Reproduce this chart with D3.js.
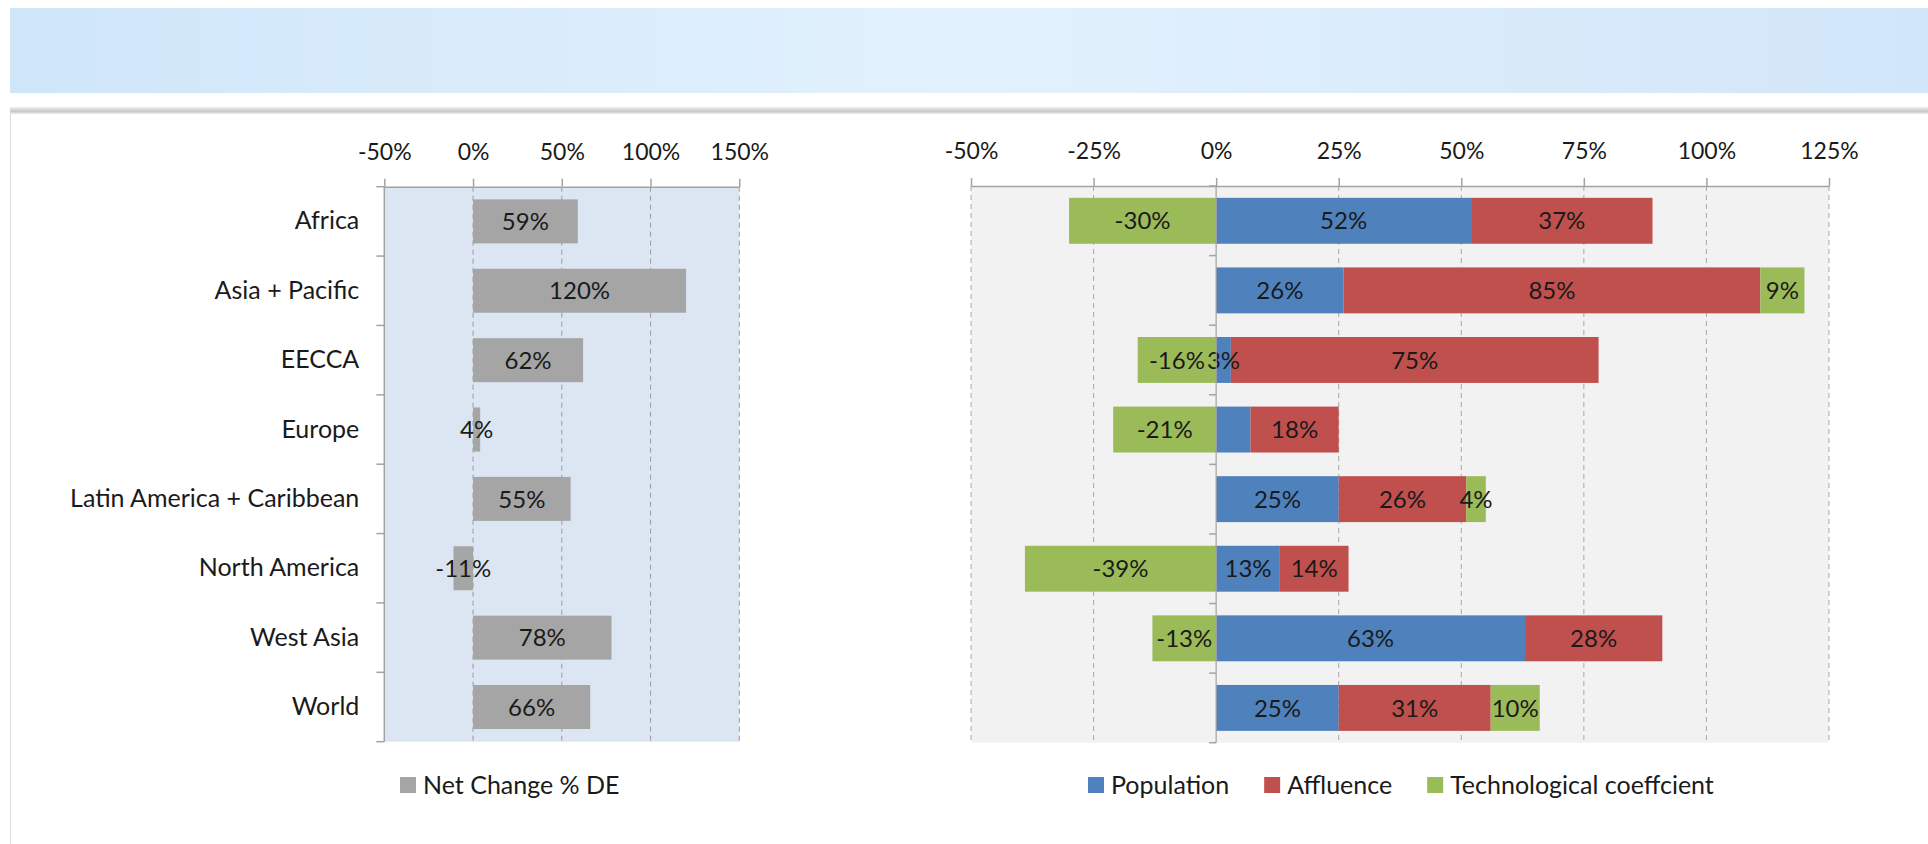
<!DOCTYPE html>
<html>
<head>
<meta charset="utf-8">
<script src="https://d3js.org/d3.v7.min.js"></script>
<style>
  body { margin: 0; background: #fff; }
  svg text { font-family: Lato, "Open Sans", sans-serif; fill: #1a1a1a; }
</style>
</head>
<body>
<div id="chart"></div>
<script>
// regions and their values (% change)
var regions = ["Africa", "Asia + Pacific", "EECCA", "Europe", "Latin America + Caribbean", "North America", "West Asia", "World"];
var netChange = [59, 120, 62, 4, 55, -11, 78, 66];
var population = [52, 26, 3, 7, 25, 13, 63, 25];
var affluence = [37, 85, 75, 18, 26, 14, 28, 31];
var techCoef = [-30, 9, -16, -21, 4, -39, -13, 10];

var netTicks = [-50, 0, 50, 100, 150];
var driverTicks = [-50, -25, 0, 25, 50, 75, 100, 125];
var driverNames = ["Population", "Affluence", "Technological coeffcient"];
var driverColors = ["#4f81bd", "#c0504d", "#9bbb59"];
var netName = "Net Change % DE";
var hiddenLabels = ["Europe|Population"];

var W = 1928, H = 844;
var tickFont = 23, valueFont = 24, labelFont = 25;
var axisColor = "#a3a3a3";

var svg = d3.select("#chart").append("svg")
  .attr("width", W)
  .attr("height", H);

var defs = svg.append("defs");

// page header band
var band = defs.append("linearGradient").attr("id", "band");
band.append("stop").attr("offset", "0%").attr("stop-color", "#cfe6f9");
band.append("stop").attr("offset", "50%").attr("stop-color", "#e2f1fd");
band.append("stop").attr("offset", "100%").attr("stop-color", "#d1e6f9");

var rule = defs.append("linearGradient").attr("id", "rule")
  .attr("x1", "0%").attr("y1", "0%").attr("x2", "0%").attr("y2", "100%");
rule.append("stop").attr("offset", "0%").attr("stop-color", "#f2f2f2");
rule.append("stop").attr("offset", "60%").attr("stop-color", "#c6c6c6");
rule.append("stop").attr("offset", "100%").attr("stop-color", "#ececec");

svg.append("rect")
  .attr("x", 10).attr("y", 8)
  .attr("width", W - 10).attr("height", 85)
  .style("fill", "url(#band)");

svg.append("rect")
  .attr("x", 10).attr("y", 107)
  .attr("width", W - 10).attr("height", 7)
  .style("fill", "url(#rule)");

svg.append("line")
  .attr("x1", 10.5).attr("x2", 10.5)
  .attr("y1", 112).attr("y2", H)
  .style("stroke", "#dcdcdc");

// ---------- left chart: net change ----------
var xNet = d3.scaleLinear().domain([-50, 150]).range([384.3, 739.3]);
var yNet = d3.scaleBand().domain(regions).range([186.7, 741.7])
  .paddingInner(0.366).paddingOuter(0.183);

var left = svg.append("g");

left.append("rect")
  .attr("x", xNet(-50)).attr("y", yNet.range()[0])
  .attr("width", xNet(150) - xNet(-50))
  .attr("height", yNet.range()[1] - yNet.range()[0])
  .style("fill", "#dce6f2");

left.selectAll(".grid")
  .data(netTicks.filter(function(d) { return d !== -50; }))
  .enter().append("line")
  .attr("class", "grid")
  .attr("x1", function(d) { return xNet(d); })
  .attr("x2", function(d) { return xNet(d); })
  .attr("y1", yNet.range()[0]).attr("y2", yNet.range()[1])
  .style("stroke", "#9a9a9a")
  .style("stroke-dasharray", "5,4");

left.selectAll(".bar")
  .data(netChange)
  .enter().append("rect")
  .attr("class", "bar")
  .attr("x", function(d) { return xNet(Math.min(0, d)); })
  .attr("y", function(d, i) { return yNet(regions[i]); })
  .attr("width", function(d) { return Math.abs(xNet(d) - xNet(0)); })
  .attr("height", yNet.bandwidth())
  .style("fill", "#a5a5a5");

left.selectAll(".val")
  .data(netChange)
  .enter().append("text")
  .attr("class", "val")
  .attr("x", function(d) { return (xNet(d) + xNet(0)) / 2; })
  .attr("y", function(d, i) { return yNet(regions[i]) + yNet.bandwidth() / 2; })
  .attr("dy", "0.36em")
  .attr("text-anchor", "middle")
  .style("font-size", valueFont + "px")
  .text(function(d) { return d + "%"; });

var netAxis = left.append("g")
  .attr("transform", "translate(0," + yNet.range()[0] + ")")
  .call(d3.axisTop(xNet).tickValues(netTicks).tickSizeInner(8).tickSizeOuter(0)
    .tickPadding(19).tickFormat(function(d) { return d + "%"; }));
netAxis.selectAll("text").style("font-size", tickFont + "px").style("font-family", null);

var catAxis = left.append("g")
  .attr("transform", "translate(" + xNet(-50) + ",0)")
  .call(d3.axisLeft(yNet).tickSize(0).tickPadding(25));
catAxis.select(".domain").remove();
catAxis.selectAll("text").style("font-size", labelFont + "px").style("font-family", null);

[netAxis, catAxis].forEach(function(a) {
  a.selectAll("line, path").style("stroke", axisColor).style("stroke-width", 1.5);
});

// category boundary ticks and vertical axis
var stepN = yNet.step();
left.selectAll(".ctick")
  .data(d3.range(regions.length + 1))
  .enter().append("line")
  .attr("class", "ctick")
  .attr("x1", xNet(-50) - 8).attr("x2", xNet(-50))
  .attr("y1", function(i) { return yNet.range()[0] + i * stepN; })
  .attr("y2", function(i) { return yNet.range()[0] + i * stepN; })
  .style("stroke", axisColor).style("stroke-width", 1.5);

left.append("line")
  .attr("x1", xNet(-50)).attr("x2", xNet(-50))
  .attr("y1", yNet.range()[0]).attr("y2", yNet.range()[1])
  .style("stroke", axisColor).style("stroke-width", 1.5);

// ---------- right chart: drivers ----------
var xDrv = d3.scaleLinear().domain([-50, 125]).range([971, 1829]);
var yDrv = d3.scaleBand().domain(regions).range([186, 742.7])
  .paddingInner(0.34).paddingOuter(0.17);

var table = regions.map(function(r, i) {
  var row = { region: r };
  row[driverNames[0]] = population[i];
  row[driverNames[1]] = affluence[i];
  row[driverNames[2]] = techCoef[i];
  return row;
});

var series = d3.stack().keys(driverNames).offset(d3.stackOffsetDiverging)(table);

var right = svg.append("g");

right.append("rect")
  .attr("x", xDrv(-50)).attr("y", yDrv.range()[0])
  .attr("width", xDrv(125) - xDrv(-50))
  .attr("height", yDrv.range()[1] - yDrv.range()[0])
  .style("fill", "#f2f2f2");

right.selectAll(".grid")
  .data(driverTicks.filter(function(d) { return d !== 0; }))
  .enter().append("line")
  .attr("class", "grid")
  .attr("x1", function(d) { return xDrv(d); })
  .attr("x2", function(d) { return xDrv(d); })
  .attr("y1", yDrv.range()[0]).attr("y2", yDrv.range()[1])
  .style("stroke", "#a8a8a8")
  .style("stroke-dasharray", "5,4");

var layers = right.selectAll(".layer")
  .data(series)
  .enter().append("g")
  .attr("class", "layer")
  .style("fill", function(d, i) { return driverColors[i]; });

layers.selectAll("rect")
  .data(function(d) { return d; })
  .enter().append("rect")
  .attr("x", function(d) { return xDrv(d[0]); })
  .attr("y", function(d) { return yDrv(d.data.region); })
  .attr("width", function(d) { return xDrv(d[1]) - xDrv(d[0]); })
  .attr("height", yDrv.bandwidth());

series.forEach(function(s) {
  right.append("g").selectAll("text")
    .data(s.filter(function(d) { return hiddenLabels.indexOf(d.data.region + "|" + s.key) < 0; }))
    .enter().append("text")
    .attr("x", function(d) { return (xDrv(d[0]) + xDrv(d[1])) / 2; })
    .attr("y", function(d) { return yDrv(d.data.region) + yDrv.bandwidth() / 2; })
    .attr("dy", "0.36em")
    .attr("text-anchor", "middle")
    .style("font-size", valueFont + "px")
    .text(function(d) { return d.data[s.key] + "%"; });
});

var drvAxis = right.append("g")
  .attr("transform", "translate(0," + yDrv.range()[0] + ")")
  .call(d3.axisTop(xDrv).tickValues(driverTicks).tickSizeInner(8).tickSizeOuter(0)
    .tickPadding(19).tickFormat(function(d) { return d + "%"; }));
drvAxis.selectAll("text").style("font-size", tickFont + "px").style("font-family", null);
drvAxis.selectAll("line, path").style("stroke", axisColor).style("stroke-width", 1.5);

var stepD = yDrv.step();
right.selectAll(".ctick")
  .data(d3.range(regions.length + 1))
  .enter().append("line")
  .attr("class", "ctick")
  .attr("x1", xDrv(0) - 7).attr("x2", xDrv(0))
  .attr("y1", function(i) { return yDrv.range()[0] + i * stepD; })
  .attr("y2", function(i) { return yDrv.range()[0] + i * stepD; })
  .style("stroke", axisColor).style("stroke-width", 1.5);

right.append("line")
  .attr("x1", xDrv(0)).attr("x2", xDrv(0))
  .attr("y1", yDrv.range()[0]).attr("y2", yDrv.range()[1])
  .style("stroke", axisColor).style("stroke-width", 1.2);

// ---------- legends ----------
function legend(x0, y0, names, colors, gap) {
  var g = svg.append("g").attr("transform", "translate(" + x0 + "," + y0 + ")");
  var x = 0;
  names.forEach(function(name, i) {
    g.append("rect")
      .attr("x", x).attr("y", -8)
      .attr("width", 16).attr("height", 16)
      .style("fill", colors[i]);
    var t = g.append("text")
      .attr("x", x + 23).attr("y", 0)
      .attr("dy", "0.36em")
      .style("font-size", labelFont + "px")
      .text(name);
    x += 23 + t.node().getComputedTextLength() + gap;
  });
}

legend(400, 785, [netName], ["#a5a5a5"], 0);
legend(1088, 785, driverNames, driverColors, 35);
</script>
</body>
</html>
